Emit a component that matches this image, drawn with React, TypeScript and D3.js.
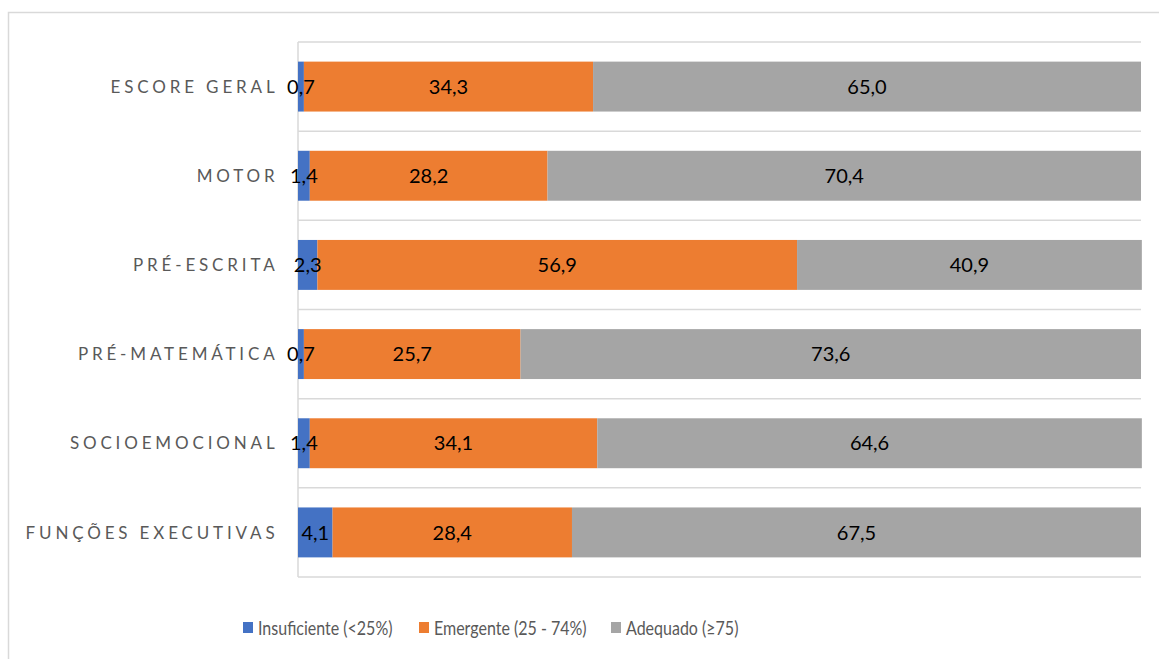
import React from "react";
import * as d3 from "d3";

const categories = [
  "ESCORE GERAL",
  "MOTOR",
  "PRÉ-ESCRITA",
  "PRÉ-MATEMÁTICA",
  "SOCIOEMOCIONAL",
  "FUNÇÕES EXECUTIVAS",
];
const insuficiente = [0.7, 1.4, 2.3, 0.7, 1.4, 4.1];
const emergente = [34.3, 28.2, 56.9, 25.7, 34.1, 28.4];
const adequado = [65.0, 70.4, 40.9, 73.6, 64.6, 67.5];
const seriesNames = ["Insuficiente (<25%)", "Emergente (25 - 74%)", "Adequado (≥75)"];
const colors = ["#4472C4", "#ED7D31", "#A5A5A5"];

const W = 1159;
const H = 659;
const FONT = "Lato, 'Open Sans', sans-serif";

export default function App() {
  const left = 298;
  const right = 1141;
  const top = 42;
  const bottom = 577;
  const x = d3.scaleLinear().domain([0, 100]).range([left, right]);
  const y = d3
    .scaleBand<string>()
    .domain(categories)
    .range([top, bottom])
    .paddingInner(0.44)
    .paddingOuter(0.22);
  const step = (bottom - top) / categories.length;
  const rows = categories.map((c, i) => ({
    cat: c,
    vals: [insuficiente[i], emergente[i], adequado[i]],
  }));
  const fmt = (v: number) => v.toFixed(1).replace(".", ",");
  const legendX = [243, 419, 611];

  return (
    <svg
      width={W}
      height={H}
      style={{ position: "absolute", left: 0, top: 0, display: "block" }}
    >
      <rect x={0} y={0} width={W} height={H} fill="#fff" />
      <rect
        x={8.5}
        y={12.5}
        width={W + 10}
        height={H + 10}
        fill="none"
        stroke="#D9D9D9"
        strokeWidth={1.5}
      />
      {d3.range(categories.length + 1).map((i) => (
        <line
          key={"g" + i}
          x1={left}
          x2={right}
          y1={top + i * step}
          y2={top + i * step}
          stroke="#D9D9D9"
          strokeWidth={1.5}
        />
      ))}
      <line x1={left} x2={left} y1={top} y2={bottom} stroke="#D9D9D9" strokeWidth={1.5} />
      {rows.map((r) => {
        let acc = 0;
        const yy = y(r.cat)!;
        const bh = y.bandwidth();
        return (
          <g key={r.cat}>
            {r.vals.map((v, j) => {
              const x0 = x(acc);
              acc += v;
              const x1 = x(acc);
              return (
                <rect key={j} x={x0} y={yy} width={x1 - x0} height={bh} fill={colors[j]} />
              );
            })}
          </g>
        );
      })}
      {rows.map((r) => {
        let acc = 0;
        const yy = y(r.cat)! + y.bandwidth() / 2;
        return (
          <g key={"l" + r.cat}>
            {r.vals.map((v, j) => {
              const cx = x(acc + v / 2);
              acc += v;
              return (
                <text
                  key={j}
                  x={cx}
                  y={yy}
                  dy="0.36em"
                  textAnchor="middle"
                  fontFamily={FONT}
                  fontSize={20}
                  fill="#000"
                >
                  {fmt(v)}
                </text>
              );
            })}
            <text
              x={278.5}
              y={yy}
              dy="0.36em"
              textAnchor="end"
              fontFamily={FONT}
              fontSize={17}
              letterSpacing={3.85}
              fill="#595959"
            >
              {r.cat}
            </text>
          </g>
        );
      })}
      {seriesNames.map((s, i) => (
        <g key={s}>
          <rect x={legendX[i]} y={622} width={10} height={11} fill={colors[i]} />
          <g transform={`translate(${legendX[i] + 15},628) scale(1,1.25)`}>
            <text
              x={0}
              y={0}
              dy="0.36em"
              fontFamily={FONT}
              fontSize={16}
              fill="#595959"
            >
              {s}
            </text>
          </g>
        </g>
      ))}
    </svg>
  );
}
